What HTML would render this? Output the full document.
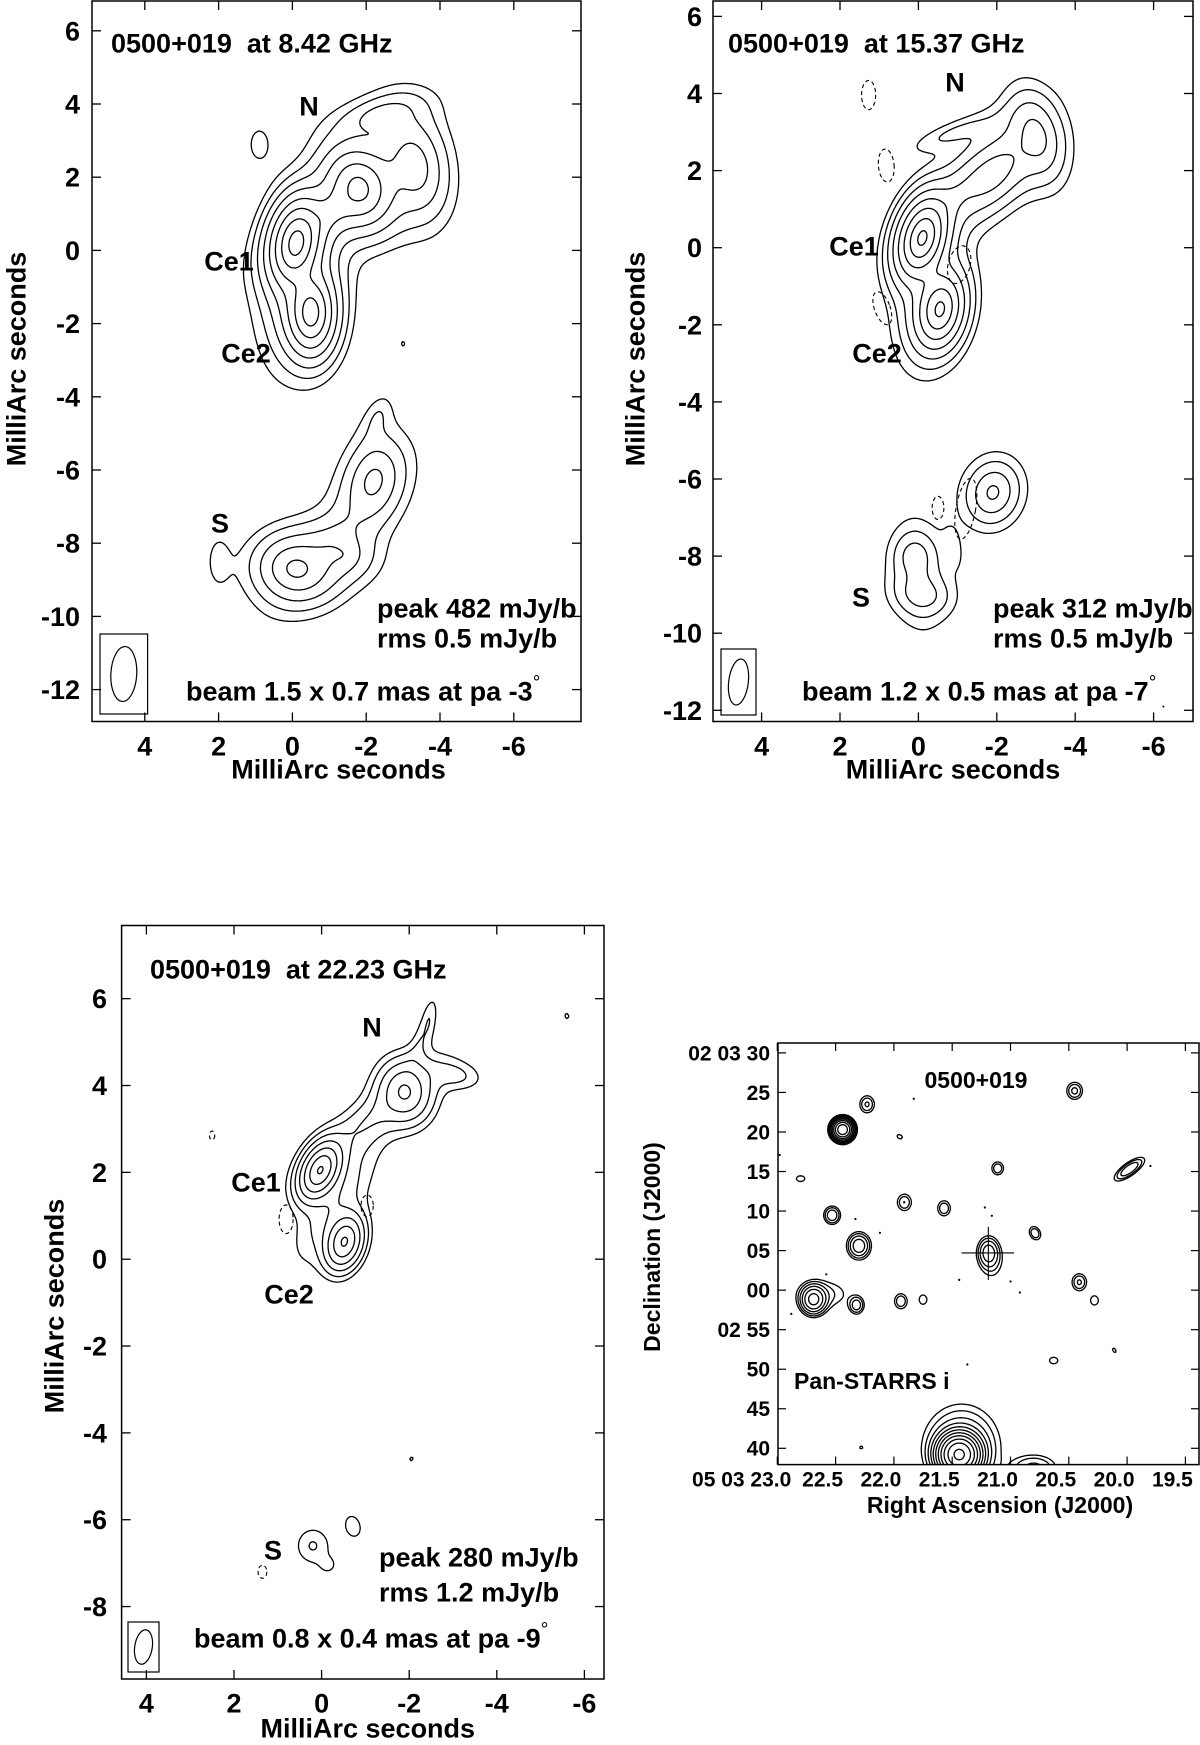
<!DOCTYPE html>
<html><head><meta charset="utf-8">
<style>
html,body{margin:0;padding:0;background:#fff;}
svg{display:block;}
text{font-family:"Liberation Sans",Arial,sans-serif;font-weight:bold;fill:#000;}
</style></head>
<body>
<svg id="fig" xmlns="http://www.w3.org/2000/svg" width="1200" height="1745" viewBox="0 0 1200 1745">
<rect x="0" y="0" width="1200" height="1745" fill="#fff"/>
<g id="panels"></g>
</svg>
<script>
// ---------------- DATA ----------------
// Panel 1: 8.42 GHz components [mas, mJy/b, mas scale lengths, deg]
const p1CompX   = [-0.1,-0.5,-1.8,-3.3,-1.0,-2.4,-0.3,-0.1,-1.3,-2.2,-1.2,-2.3, 0.9, 2.0,-3.0];
const p1CompY   = [ 0.2,-1.7, 1.7, 2.3, 1.0, 3.7,-1.0,-8.7,-8.3,-6.3,-7.8,-4.6, 2.9,-8.5,-2.55];
const p1CompF   = [ 300, 160,  60,  20,  25,   8,  12,  30,   8,  15,   4,   3, 2.5, 2.6, 1.7];
const p1CompMaj = [0.33,0.33,0.38,0.55,0.60,0.50,0.85,0.38,0.40,0.45,1.10,0.35,0.33,0.40,0.15];
const p1CompMin = [0.19,0.19,0.30,0.33,0.25,0.22,0.42,0.32,0.30,0.30,0.38,0.18,0.20,0.18,0.10];
const p1CompPA  = [ -10,   0,  20,  10, -50, -75, -10,  80,  80, -15, -40, -20,   0,   0,   0];
const p1Levels  = [1.5,3,6,12,24,48,96,192,384];
const p1XTicks  = [4,2,0,-2,-4,-6];
const p1YTicks  = [6,4,2,0,-2,-4,-6,-8,-10,-12];
const p1Beam    = [1.5,0.7,-3];

// Panel 2: 15.37 GHz
const p2CompX   = [-0.1,-0.55,-1.9,-3.0,-0.9,-1.0,-0.3, 0.1,-0.1, 0.0,-1.9,-0.9];
const p2CompY   = [0.25,-1.6, 1.9, 2.9, 1.3, 3.0,-1.4,-8.0,-9.0,-8.5,-6.35,-7.8];
const p2CompF   = [ 250, 120,  18,  16,   8,   4,   8,   8,   8,   4,  15, 2.2];
const p2CompMaj = [0.30,0.30,0.55,0.45,0.60,0.60,0.70,0.25,0.30,0.70,0.33,0.30];
const p2CompMin = [0.17,0.18,0.30,0.25,0.22,0.15,0.35,0.22,0.22,0.30,0.27,0.12];
const p2CompPA  = [ -15, -10, -45,  15, -45, -70, -10,   0,  80,   5, -15,  10];
const p2Levels  = [1.5,3,6,12,24,48,96,192];
const p2NegX    = [1.27,0.82,0.92,-1.04,-0.5,-1.21];
const p2NegY    = [3.96,2.13,-1.57,-0.44,-6.75,-6.77];
const p2NegRx   = [0.18,0.20,0.20,0.28,0.15,0.25];
const p2NegRy   = [0.38,0.43,0.45,0.50,0.30,0.80];
const p2NegPA   = [0,5,20,-15,0,-10];
const p2Beam    = [1.2,0.5,-7];

// Panel 3: 22.23 GHz
const p3CompX   = [0.03,-0.52,-0.3,-1.9,-1.1,-3.0,-2.45,-2.2, 0.2,-0.15,-0.72,-5.6,-1.55,-2.05];
const p3CompY   = [2.05, 0.4, 1.3,3.85, 3.2,4.25, 5.5, 4.9,-6.6,-7.05,-6.15, 5.6,-1.0,-4.6];
const p3CompF   = [ 250, 130,  12,  60,  14,  10,   5,   5,   8, 4.5,   6, 4.5,   4, 4.2];
const p3CompMaj = [0.25,0.25,0.80,0.30,0.90,0.35,0.35,0.50,0.26,0.12,0.22,0.10,0.05,0.10];
const p3CompMin = [0.15,0.16,0.30,0.25,0.25,0.18,0.10,0.12,0.24,0.12,0.15,0.07,0.05,0.07];
const p3CompPA  = [ -25, -15, -30,  10, -50,  80, -10, -20,   0,   0,  15,  10,   0, -30];
const p3Levels  = [3.6,7.2,14.4,28.8,57.6,115,230];
const p3NegX    = [2.5,0.81,-1.04,1.35];
const p3NegY    = [2.85,0.92,1.23,-7.2];
const p3NegRx   = [0.06,0.16,0.14,0.10];
const p3NegRy   = [0.10,0.33,0.25,0.15];
const p3NegPA   = [0,0,0,0];
const p3XTicks  = [4,2,0,-2,-4,-6];
const p3YTicks  = [6,4,2,0,-2,-4,-6,-8];
const p3Beam    = [0.8,0.4,-9];

// Panel 4: Pan-STARRS i optical (RA seconds, Dec arcsec rel. 02 03 00)
const p4CompRA  = [20.45,22.23,22.44,21.95,21.11,19.98,22.80,21.91,21.57,22.53,22.30,21.19,21.16,20.79,20.41,20.28,22.69,22.60,22.32,21.94,21.75,20.63,20.11,22.28,21.44,21.42,20.80];
const p4CompDec = [ 25.2, 23.5, 20.3, 19.4, 15.4, 15.3, 14.1, 11.1,10.35, 9.47,  5.6,  4.8,  3.5,  7.2,  1.0, -1.3, -1.2, -0.5, -1.9, -1.4, -1.2, -8.9, -7.6,-19.9,-20.8,-19.8,-22.5];
const p4CompF   = [    3,  2.8,   40,  1.4,  2.5,    4,  1.5,  2.6,  2.5,    4,    6,    5,  1.5,  2.5,  2.8,  1.5,   12,  1.8,  3.5,  2.5,  1.5,  1.5,  1.3,  1.2,  120,    5,    3];
const p4CompMaj = [ 0.73, 0.75, 0.70, 0.45, 0.60, 1.40, 0.60, 0.75, 0.70, 0.70, 0.95, 1.10, 1.60, 0.65, 0.75, 0.65, 1.00, 2.30, 0.70, 0.70, 0.65, 0.60, 0.45, 0.35, 1.30, 3.00, 1.90];
const p4CompMin = [ 0.68, 0.65, 0.70, 0.30, 0.55, 0.50, 0.40, 0.65, 0.60, 0.65, 0.85, 0.80, 1.10, 0.50, 0.65, 0.55, 0.90, 1.30, 0.60, 0.60, 0.55, 0.45, 0.25, 0.30, 1.30, 2.80, 1.10];
const p4CompPA  = [    0,    0,    0,   60,    0,  -55,   90,    0,    0,    0,    0,    0,    0,   30,    0,    0,    0,   90,    0,    0,    0,   90,   30,   90,    0,    0,   90];
const p4Levels  = [1,1.6,2.56,4.1,6.55,10.5,16.8,26.8,42.9,68.7,110];
const p4RATicks = [23.0,22.5,22.0,21.5,21.0,20.5,20.0,19.5];
const p4RALabels= ["05 03 23.0","22.5","22.0","21.5","21.0","20.5","20.0","19.5"];
const p4DecTicks= [30,25,20,15,10,5,0,-5,-10,-15,-20];
const p4DecLabels=["02 03 30","25","20","15","10","05","00","02 55","50","45","40"];
const p4DotRA   = [22.98,22.33,22.12,21.44,21.22,21.16,20.92,21.37,22.58,22.88,19.80,21.83,21.0];
const p4DotDec  = [17.1,9.0,7.25,1.3,10.45,9.4,-0.3,-9.4,2.0,-3.0,15.7,24.2,1.1];
const p4CrossRA = [21.42,20.97,21.19];
const p4CrossDec= [8.0,1.3,4.7];

// ---------------- HELPERS ----------------
const NS = "http://www.w3.org/2000/svg";
const root = document.getElementById('panels');
function el(tag, attrs, parent){
  const e = document.createElementNS(NS, tag);
  for (const k in attrs) e.setAttribute(k, attrs[k]);
  (parent||root).appendChild(e);
  return e;
}
function txt(str, x, y, size, anchor, parent){
  const t = el('text', {x:x, y:y, 'font-size':size, 'text-anchor':anchor||'middle'}, parent);
  t.textContent = str;
  return t;
}

function makePanel(cfg){
  const g = el('g', {});
  
  
  const clipId = cfg.name + '-clip';
  const cp = el('clipPath', {id: clipId}, g);
  el('rect', {x:cfg.L, y:cfg.T, width:cfg.R-cfg.L, height:cfg.B-cfg.T}, cp);
  const s = 1.5;
  const nx = Math.ceil((cfg.R-cfg.L)/s)+1, ny = Math.ceil((cfg.B-cfg.T)/s)+1;
  const comps = [];
  for (let k=0;k<cfg.cx.length;k++){
    const pa = cfg.pa[k]*Math.PI/180;
    comps.push({x:cfg.cx[k]*cfg.xu, y:cfg.cy[k], f:cfg.cf[k], sa:Math.sin(pa), ca:Math.cos(pa),
      ia:1/(cfg.maj[k]*cfg.maj[k]), ib:1/(cfg.min[k]*cfg.min[k])});
  }
  const pw = cfg.pw/2;
  const V = new Float32Array(nx*ny);
  for (let j=0;j<ny;j++){
    const dy = cfg.invY(cfg.T+j*s);
    for (let i=0;i<nx;i++){
      const dx = cfg.invX(cfg.L+i*s)*cfg.xu;
      let v=0;
      for (const c of comps){
        const ex=dx-c.x, ey=dy-c.y;
        const u = ex*c.sa+ey*c.ca, w = ex*c.ca-ey*c.sa;
        const q2 = u*u*c.ia + w*w*c.ib;
        if (q2>400) continue;
        v += c.f*Math.exp(-0.5*Math.pow(q2,pw));
      }
      V[j*nx+i]=v;
    }
  }
  const cg = el('g', {'clip-path':'url(#'+clipId+')'}, g);
  
  
  for (const L of cfg.levels){
    const parts=[];
    for (let j=0;j<ny-1;j++){
      const y0=cfg.T+j*s, y1=y0+s;
      for (let i=0;i<nx-1;i++){
        const a=V[j*nx+i], b=V[j*nx+i+1], c=V[(j+1)*nx+i+1], d=V[(j+1)*nx+i];
        const idx=(a>L?8:0)|(b>L?4:0)|(c>L?2:0)|(d>L?1:0);
        if (idx===0||idx===15) continue;
        const x0=cfg.L+i*s, x1=x0+s;
        const T=()=>[x0+s*(L-a)/(b-a), y0];
        const Rr=()=>[x1, y0+s*(L-b)/(c-b)];
        const Bm=()=>[x0+s*(L-d)/(c-d), y1];
        const Lf=()=>[x0, y0+s*(L-a)/(d-a)];
        const seg=(p,q)=>parts.push('M'+p[0].toFixed(1)+' '+p[1].toFixed(1)+'L'+q[0].toFixed(1)+' '+q[1].toFixed(1));
        switch(idx){
          case 1: case 14: seg(Lf(),Bm()); break;
          case 2: case 13: seg(Bm(),Rr()); break;
          case 3: case 12: seg(Lf(),Rr()); break;
          case 4: case 11: seg(T(),Rr()); break;
          case 5: seg(Lf(),T()); seg(Bm(),Rr()); break;
          case 6: case 9: seg(T(),Bm()); break;
          case 7: case 8: seg(Lf(),T()); break;
          case 10: seg(T(),Rr()); seg(Lf(),Bm()); break;
        }
      }
    }
    const p = el('path', {d:parts.join(''), fill:'none', stroke:'#000', 'stroke-width':1.3, 'stroke-linecap':'round'}, cg);
    
    
  }
  if (cfg.negX){
    for (let k=0;k<cfg.negX.length;k++){
      const cx=cfg.sx(cfg.negX[k]), cy=cfg.sy(cfg.negY[k]);
      const e = el('ellipse', {cx:cx, cy:cy, rx:cfg.negRx[k]*cfg.kx, ry:cfg.negRy[k]*cfg.ky,
        transform:'rotate('+(-cfg.negPA[k])+' '+cx+' '+cy+')', fill:'none', stroke:'#000', 'stroke-width':1.1, 'stroke-dasharray':'4 3'}, cg);
      
      
    }
  }
  const fr = el('rect', {x:cfg.L, y:cfg.T, width:cfg.R-cfg.L, height:cfg.B-cfg.T, fill:'none', stroke:'#000', 'stroke-width':1.5}, g);
  
  
  return g;
}

function vlbiAxes(g, cfg, xticks, yticks){
  const tl=9;
  for (const v of xticks){
    const x=cfg.sx(v);
    el('line',{x1:x,y1:cfg.B,x2:x,y2:cfg.B-tl,stroke:'#000','stroke-width':1.3},g);
    el('line',{x1:x,y1:cfg.T,x2:x,y2:cfg.T+tl,stroke:'#000','stroke-width':1.3},g);
    const t = txt(String(v), x, cfg.xTickY, 27, 'middle', g);
    t.setAttribute('dy','0.35em');
    
    
  }
  for (const v of yticks){
    const y=cfg.sy(v);
    el('line',{x1:cfg.L,y1:y,x2:cfg.L+tl,y2:y,stroke:'#000','stroke-width':1.3},g);
    el('line',{x1:cfg.R,y1:y,x2:cfg.R-tl,y2:y,stroke:'#000','stroke-width':1.3},g);
    const t = txt(String(v), cfg.yTickX, y, 27, 'end', g);
    t.setAttribute('dy','0.35em');
    
    
  }
  const xl = txt('MilliArc seconds', (cfg.L+cfg.R)/2-cfg.xLabOff, cfg.xLabY, 27, 'middle', g);
  xl.setAttribute('dy','0.35em');
  
  
  const yl = txt('MilliArc seconds', 0, 0, 27, 'middle', g);
  yl.setAttribute('transform','translate('+cfg.yLabX+' '+cfg.yLabY+') rotate(-90)');
  yl.setAttribute('dy','0.35em');
  
  
}

function annot(g, str, x, y, anchor, name){
  const t = txt(str, x, y, 27, anchor, g);
  t.setAttribute('dy','0.35em');
  
  
  return t;
}
function beamText(g, str, deg, x, y){
  const t = txt(str, x, y, 27, 'start', g);
  t.setAttribute('dy','0.35em');
  
  
  const sp = document.createElementNS(NS,'tspan');
  sp.setAttribute('font-size','19');
  sp.setAttribute('dy','-12');
  sp.setAttribute('font-weight','normal');
  sp.textContent = deg;
  t.appendChild(sp);
}
function beamBox(g, cfg, bx, by, bw, bh, beam){
  const r = el('rect',{x:bx,y:by,width:bw,height:bh,fill:'none',stroke:'#000','stroke-width':1.2},g);
  
  
  const cx=bx+bw/2, cy=by+bh/2;
  const e = el('ellipse',{cx:cx,cy:cy,rx:beam[1]/2*cfg.kx,ry:beam[0]/2*cfg.ky,fill:'none',stroke:'#000','stroke-width':1.2,
    transform:'rotate('+(-beam[2])+' '+cx+' '+cy+')'},g);
  
  
}

// ---------------- PANEL 1 ----------------
(function(){
  const cfg = {name:'panel-8ghz', L:92, R:581, T:1, B:721.5, kx:36.9, ky:36.6, pw:1.3, xu:1,
    cx:p1CompX, cy:p1CompY, cf:p1CompF, maj:p1CompMaj, min:p1CompMin, pa:p1CompPA, levels:p1Levels,
    xTickY:746, yTickX:80, xLabY:769, xLabOff:-2, yLabX:16, yLabY:359};
  cfg.sx = v => 292.4 - cfg.kx*v; cfg.sy = v => 250.4 - cfg.ky*v;
  cfg.invX = p => (292.4-p)/cfg.kx; cfg.invY = p => (250.4-p)/cfg.ky;
  const g = makePanel(cfg);
  vlbiAxes(g, cfg, p1XTicks, p1YTicks);
  annot(g,'0500+019\u00a0\u00a0at 8.42 GHz',111,43,'start','panel-title');
  annot(g,'N',309,106,'middle','label-n');
  annot(g,'Ce1',229,261,'middle','label-ce1');
  annot(g,'Ce2',246,353,'middle','label-ce2');
  annot(g,'S',220,523,'middle','label-s');
  annot(g,'peak 482 mJy/b',377,608,'start','peak-label');
  annot(g,'rms 0.5 mJy/b',377,638,'start','rms-label');
  beamText(g,'beam 1.5 x 0.7 mas at pa -3','°',186,691);
  beamBox(g, cfg, 100, 634, 47.6, 80, p1Beam);
})();

// ---------------- PANEL 2 ----------------
(function(){
  const cfg = {name:'panel-15ghz', L:713, R:1193, T:1, B:721.5, kx:39.2, ky:38.55, pw:1.3, xu:1,
    cx:p2CompX, cy:p2CompY, cf:p2CompF, maj:p2CompMaj, min:p2CompMin, pa:p2CompPA, levels:p2Levels,
    negX:p2NegX, negY:p2NegY, negRx:p2NegRx, negRy:p2NegRy, negPA:p2NegPA,
    xTickY:746, yTickX:702, xLabY:769, xLabOff:0, yLabX:635, yLabY:359};
  cfg.sx = v => 918.4 - cfg.kx*v; cfg.sy = v => 247.7 - cfg.ky*v;
  cfg.invX = p => (918.4-p)/cfg.kx; cfg.invY = p => (247.7-p)/cfg.ky;
  const g = makePanel(cfg);
  vlbiAxes(g, cfg, p1XTicks, p1YTicks);
  annot(g,'0500+019\u00a0\u00a0at 15.37 GHz',728,43,'start','panel-title');
  annot(g,'N',955,82,'middle','label-n');
  annot(g,'Ce1',854,246,'middle','label-ce1');
  annot(g,'Ce2',877,353,'middle','label-ce2');
  annot(g,'S',861,597,'middle','label-s');
  annot(g,'peak 312 mJy/b',993,608,'start','peak-label');
  annot(g,'rms 0.5 mJy/b',993,638,'start','rms-label');
  beamText(g,'beam 1.2 x 0.5 mas at pa -7','°',802,691);
  beamBox(g, cfg, 721, 649, 35, 66, p2Beam);
  const d = el('circle',{cx:cfg.sx(-6.25),cy:cfg.sy(-11.9),r:1,fill:'#000'},g);
  
  
})();

// ---------------- PANEL 3 ----------------
(function(){
  const cfg = {name:'panel-22ghz', L:121.6, R:604, T:925.5, B:1679, kx:43.8, ky:43.42, pw:1.5, xu:1,
    cx:p3CompX, cy:p3CompY, cf:p3CompF, maj:p3CompMaj, min:p3CompMin, pa:p3CompPA, levels:p3Levels,
    negX:p3NegX, negY:p3NegY, negRx:p3NegRx, negRy:p3NegRy, negPA:p3NegPA,
    xTickY:1703, yTickX:107, xLabY:1728, xLabOff:-5, yLabX:54, yLabY:1306};
  cfg.sx = v => 321.6 - cfg.kx*v; cfg.sy = v => 1259.2 - cfg.ky*v;
  cfg.invX = p => (321.6-p)/cfg.kx; cfg.invY = p => (1259.2-p)/cfg.ky;
  const g = makePanel(cfg);
  vlbiAxes(g, cfg, p3XTicks, p3YTicks);
  annot(g,'0500+019\u00a0\u00a0at 22.23 GHz',150,969,'start','panel-title');
  annot(g,'N',372,1027,'middle','label-n');
  annot(g,'Ce1',256,1182,'middle','label-ce1');
  annot(g,'Ce2',289,1294,'middle','label-ce2');
  annot(g,'S',273,1550,'middle','label-s');
  annot(g,'peak 280 mJy/b',379,1557,'start','peak-label');
  annot(g,'rms 1.2 mJy/b',379,1592,'start','rms-label');
  beamText(g,'beam 0.8 x 0.4 mas at pa -9','°',194,1638);
  beamBox(g, cfg, 128, 1622, 31, 50, p3Beam);
})();

// ---------------- PANEL 4 ----------------
(function(){
  const cfg = {name:'panel-panstarrs', L:778, R:1199, T:1043, B:1464.6, kx:116.6/15, ky:7.908, pw:2, xu:15,
    cx:p4CompRA, cy:p4CompDec, cf:p4CompF, maj:p4CompMaj, min:p4CompMin, pa:p4CompPA, levels:p4Levels};
  cfg.sx = ra => 777.3 + (23.0-ra)*116.6; cfg.sy = d => 1052.9 + (30-d)*7.908;
  cfg.invX = p => 23.0 - (p-777.3)/116.6; cfg.invY = p => 30 - (p-1052.9)/7.908;
  const g = makePanel(cfg);
  const tl=8;
  p4RATicks.forEach((ra,i)=>{
    const x=cfg.sx(ra);
    el('line',{x1:x,y1:cfg.B,x2:x,y2:cfg.B-tl,stroke:'#000','stroke-width':1.2},g);
    el('line',{x1:x,y1:cfg.T,x2:x,y2:cfg.T+tl,stroke:'#000','stroke-width':1.2},g);
    const t = txt(p4RALabels[i], i===0 ? x+14 : x-13, 1479, 21, i===0?'end':'middle', g);
    t.setAttribute('dy','0.35em');
    
    
  });
  p4DecTicks.forEach((d,i)=>{
    const y=cfg.sy(d);
    el('line',{x1:cfg.L,y1:y,x2:cfg.L+tl,y2:y,stroke:'#000','stroke-width':1.2},g);
    el('line',{x1:cfg.R,y1:y,x2:cfg.R-tl,y2:y,stroke:'#000','stroke-width':1.2},g);
    const t = txt(p4DecLabels[i], 770, y, 21, 'end', g);
    t.setAttribute('dy','0.35em');
    
    
  });
  const ch = el('line',{x1:cfg.sx(p4CrossRA[0]),y1:cfg.sy(p4CrossDec[2]),x2:cfg.sx(p4CrossRA[1]),y2:cfg.sy(p4CrossDec[2]),stroke:'#000','stroke-width':1.1},g);
  
  
  const cv = el('line',{x1:cfg.sx(p4CrossRA[2]),y1:cfg.sy(p4CrossDec[0]),x2:cfg.sx(p4CrossRA[2]),y2:cfg.sy(p4CrossDec[1]),stroke:'#000','stroke-width':1.1},g);
  
  
  for (let k=0;k<p4DotRA.length;k++){
    const c = el('circle',{cx:cfg.sx(p4DotRA[k]),cy:cfg.sy(p4DotDec[k]),r:1.1,fill:'#000'},g);
    
    
  }
  const t1 = txt('0500+019', 976, 1080, 23, 'middle', g);
  t1.setAttribute('dy','0.35em');
  
  
  const t2 = txt('Pan-STARRS i', 794, 1381, 23, 'start', g);
  t2.setAttribute('dy','0.35em');
  
  
  const xl = txt('Right Ascension (J2000)', 1000, 1505, 23, 'middle', g);
  xl.setAttribute('dy','0.35em');
  
  
  const yl = txt('Declination (J2000)', 0, 0, 23, 'middle', g);
  yl.setAttribute('transform','translate(652 1247) rotate(-90)');
  yl.setAttribute('dy','0.35em');
  
  
})();
</script>
</body></html>
